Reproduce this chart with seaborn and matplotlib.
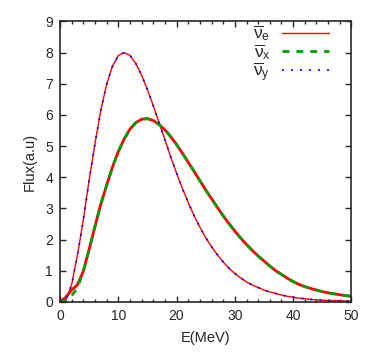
import numpy as np
import pandas as pd
import matplotlib
matplotlib.use("Agg")
import matplotlib.pyplot as plt
import seaborn as sns

energy = list(range(0, 51))

# tall spectrum (nu_e red / nu_y blue)
flux_tall = [0.0, 0.06, 0.55, 1.5, 2.62, 3.9, 5.07, 6.14, 6.98, 7.56,
             7.9, 8.0, 7.91, 7.65, 7.28, 6.81, 6.3, 5.75, 5.2, 4.65,
             4.13, 3.64, 3.19, 2.77, 2.4, 2.06, 1.77, 1.51, 1.28, 1.08,
             0.91, 0.77, 0.64, 0.54, 0.46, 0.38, 0.32, 0.27, 0.22, 0.18,
             0.15, 0.12, 0.1, 0.08, 0.065, 0.055, 0.045, 0.04, 0.035, 0.03, 0.025]

# broad spectrum (nu_e red / nu_x green)
flux_broad_x = [0.0, 0.04, 0.2, 0.45, 0.98, 1.68, 2.42, 3.13, 3.74, 4.32,
                4.82, 5.22, 5.54, 5.75, 5.86, 5.88, 5.82, 5.69, 5.52, 5.30,
                5.05, 4.77, 4.48, 4.19, 3.89, 3.59, 3.31, 3.03, 2.76, 2.51,
                2.27, 2.05, 1.84, 1.65, 1.47, 1.31, 1.15, 1.0, 0.88, 0.76,
                0.65, 0.56, 0.49, 0.43, 0.38, 0.33, 0.29, 0.26, 0.23, 0.2, 0.18]
flux_broad_e = [0.0, 0.15, 0.38, 0.55] + flux_broad_x[4:]

labels = [r"$\overline{\nu}_e$", r"$\overline{\nu}_x$", r"$\overline{\nu}_y$"]

sns.set_style("ticks")
plt.rcParams['font.family'] = ['Liberation Sans', 'DejaVu Sans']
plt.rcParams['mathtext.fontset'] = 'custom'
plt.rcParams['mathtext.rm'] = 'Liberation Sans'
plt.rcParams['mathtext.it'] = 'Liberation Sans'

fig = plt.figure(figsize=(3.82, 3.56), dpi=100)
ax = fig.add_axes([0.157, 0.152, 0.763, 0.788])

df = pd.DataFrame({"E": energy, "tall": flux_tall, "be": flux_broad_e, "bx": flux_broad_x})

sns.lineplot(data=df, x="E", y="tall", ax=ax, color="#ff0000", lw=1.0, label=labels[0])
sns.lineplot(data=df, x="E", y="be", ax=ax, color="#ff0000", lw=2.0, label="_nolegend_")
sns.lineplot(data=df, x="E", y="bx", ax=ax, color="#00a000", lw=2.0, label=labels[1],
             dashes=False, linestyle=(0, (2.5, 2.5)))
sns.lineplot(data=df, x="E", y="tall", ax=ax, color="#0000ff", lw=1.3, label=labels[2],
             linestyle=(0, (1, 4)))

ax.set_xlim(0, 50)
ax.set_ylim(0, 9)
ax.set_xticks(range(0, 51, 10))
ax.set_xticks(range(0, 51, 2), minor=True)
ax.set_yticks(range(0, 10))
ax.tick_params(which='both', direction='in', top=True, right=True, labelsize=10, pad=5)
ax.tick_params(which='major', length=4, width=1)
ax.tick_params(which='minor', length=2, width=1)
for s in ax.spines.values():
    s.set_linewidth(1.2)
ax.set_xlabel("E(MeV)", fontsize=10.5, labelpad=6)
ax.set_ylabel("Flux(a.u)", fontsize=10.5, labelpad=6)

leg = ax.legend(loc="upper right", bbox_to_anchor=(0.96, 1.03), frameon=False,
                markerfirst=False, handlelength=2.7, fontsize=12.5, labelspacing=-0.1,
                handletextpad=0.7, borderaxespad=0.2)

fig.savefig("out.png", dpi=100)
